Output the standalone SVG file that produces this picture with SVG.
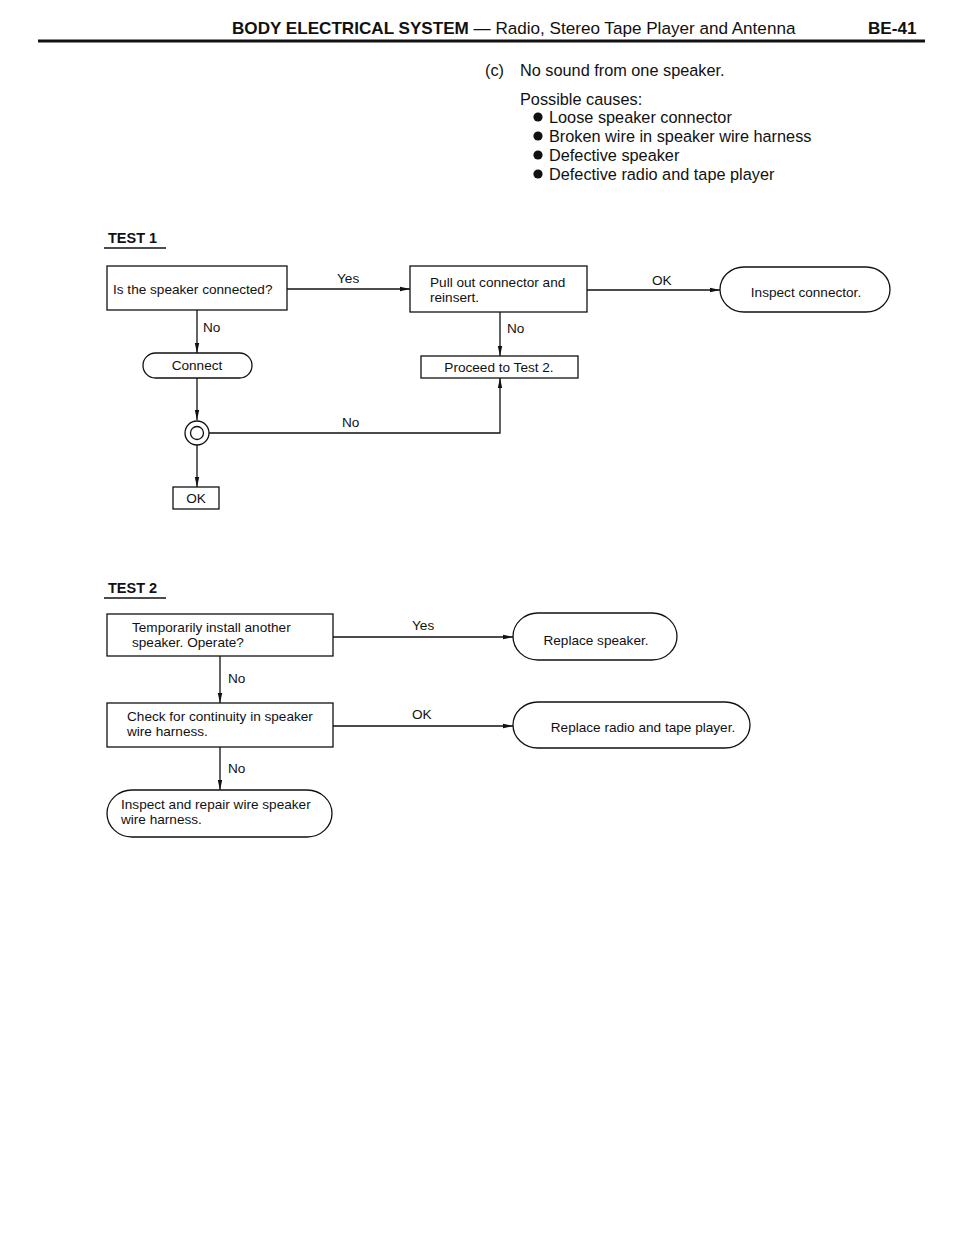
<svg xmlns="http://www.w3.org/2000/svg" width="960" height="1241" viewBox="0 0 960 1241">
<style>
.t{font-family:"Liberation Sans",Arial,sans-serif;fill:#111;}
.s{font-size:13.6px;}
.m{font-size:16.3px;}
.b{font-weight:bold;}
.box{fill:#fff;stroke:#111;stroke-width:1.3;}
.ln{fill:none;stroke:#111;stroke-width:1.3;}
</style>
<defs>
<marker id="ah" markerUnits="userSpaceOnUse" markerWidth="10" markerHeight="6" refX="10" refY="3" orient="auto">
<path d="M0,0.8 L10,3 L0,5.2 z" fill="#111"/>
</marker>
</defs>
<rect width="960" height="1241" fill="#fff"/>

<g id="header">
<text class="t b" x="232" y="34" font-size="17.1">BODY ELECTRICAL SYSTEM <tspan font-weight="normal">— Radio, Stereo Tape Player and Antenna</tspan></text>
<text class="t b" x="868" y="34" font-size="17.1">BE-41</text>
<line x1="38" y1="41" x2="925" y2="41" stroke="#111" stroke-width="3"/>
</g>

<g id="intro">
<text class="t m" x="485" y="76">(c)</text>
<text class="t m" x="520" y="76">No sound from one speaker.</text>
<text class="t m" x="520" y="105">Possible causes:</text>
<circle cx="538" cy="117" r="4.6" fill="#111"/>
<text class="t m" x="549" y="123">Loose speaker connector</text>
<circle cx="538" cy="136" r="4.6" fill="#111"/>
<text class="t m" x="549" y="142">Broken wire in speaker wire harness</text>
<circle cx="538" cy="155" r="4.6" fill="#111"/>
<text class="t m" x="549" y="161">Defective speaker</text>
<circle cx="538" cy="174" r="4.6" fill="#111"/>
<text class="t m" x="549" y="180">Defective radio and tape player</text>
</g>

<g id="test1-title">
<text class="t b" x="108" y="243" font-size="14.5">TEST 1</text>
<line x1="104" y1="248" x2="166" y2="248" stroke="#111" stroke-width="1.6"/>
</g>

<g id="connectors">
<line class="ln" x1="287" y1="289" x2="410" y2="289" marker-end="url(#ah)"/>
<line class="ln" x1="587" y1="290" x2="720" y2="290" marker-end="url(#ah)"/>
<line class="ln" x1="197" y1="310" x2="197" y2="353" marker-end="url(#ah)"/>
<line class="ln" x1="500" y1="312" x2="500" y2="356" marker-end="url(#ah)"/>
<line class="ln" x1="197" y1="378" x2="197" y2="420" marker-end="url(#ah)"/>
<polyline class="ln" points="209,433 500,433 500,378" marker-end="url(#ah)"/>
<line class="ln" x1="197" y1="445" x2="197" y2="487" marker-end="url(#ah)"/>
<line class="ln" x1="333" y1="637" x2="513" y2="637" marker-end="url(#ah)"/>
<line class="ln" x1="333" y1="726" x2="513" y2="726" marker-end="url(#ah)"/>
<line class="ln" x1="220" y1="656" x2="220" y2="703" marker-end="url(#ah)"/>
<line class="ln" x1="220" y1="747" x2="220" y2="790" marker-end="url(#ah)"/>
<text class="t s" x="337" y="283">Yes</text>
<text class="t s" x="652" y="285">OK</text>
<text class="t s" x="203" y="332">No</text>
<text class="t s" x="507" y="333">No</text>
<text class="t s" x="342" y="427">No</text>
<text class="t s" x="412" y="630">Yes</text>
<text class="t s" x="412" y="719">OK</text>
<text class="t s" x="228" y="683">No</text>
<text class="t s" x="228" y="773">No</text>
</g>

<g id="n-speaker-connected">
<rect class="box" x="107" y="266" width="180" height="44"/>
<text class="t s" x="113" y="294">Is the speaker connected?</text>
</g>
<g id="n-pull-out">
<rect class="box" x="410" y="266" width="177" height="46"/>
<text class="t s" x="430" y="287">Pull out connector and</text>
<text class="t s" x="430" y="302">reinsert.</text>
</g>
<g id="n-inspect-connector">
<rect class="box" x="720" y="267" width="170" height="45" rx="24" ry="22.5"/>
<text class="t s" x="806" y="297" text-anchor="middle">Inspect connector.</text>
</g>
<g id="n-connect">
<rect class="box" x="143" y="353" width="109" height="25" rx="12.5" ry="12.5"/>
<text class="t s" x="197" y="370" text-anchor="middle">Connect</text>
</g>
<g id="n-proceed">
<rect class="box" x="421" y="356" width="157" height="22"/>
<text class="t s" x="499" y="372" text-anchor="middle">Proceed to Test 2.</text>
</g>
<g id="n-check-mark">
<circle class="box" cx="197" cy="433" r="12"/>
<circle class="ln" cx="197" cy="433" r="6.5"/>
</g>
<g id="n-ok">
<rect class="box" x="173" y="487" width="46" height="22"/>
<text class="t s" x="196" y="503" text-anchor="middle">OK</text>
</g>

<g id="test2-title">
<text class="t b" x="108" y="593" font-size="14.5">TEST 2</text>
<line x1="104" y1="598" x2="166" y2="598" stroke="#111" stroke-width="1.6"/>
</g>

<g id="n-temp-install">
<rect class="box" x="107" y="614" width="226" height="42"/>
<text class="t s" x="132" y="632">Temporarily install another</text>
<text class="t s" x="132" y="647">speaker. Operate?</text>
</g>
<g id="n-replace-speaker">
<rect class="box" x="513" y="613" width="164" height="47" rx="25" ry="23.5"/>
<text class="t s" x="596" y="645" text-anchor="middle">Replace speaker.</text>
</g>
<g id="n-check-continuity">
<rect class="box" x="107" y="703" width="226" height="44"/>
<text class="t s" x="127" y="721">Check for continuity in speaker</text>
<text class="t s" x="127" y="736">wire harness.</text>
</g>
<g id="n-replace-radio">
<rect class="box" x="513" y="702" width="237" height="46" rx="25" ry="23"/>
<text class="t s" x="643" y="732" text-anchor="middle">Replace radio and tape player.</text>
</g>
<g id="n-inspect-repair">
<rect class="box" x="107" y="790" width="225" height="47" rx="25" ry="23.5"/>
<text class="t s" x="121" y="809">Inspect and repair wire speaker</text>
<text class="t s" x="121" y="824">wire harness.</text>
</g>
</svg>
